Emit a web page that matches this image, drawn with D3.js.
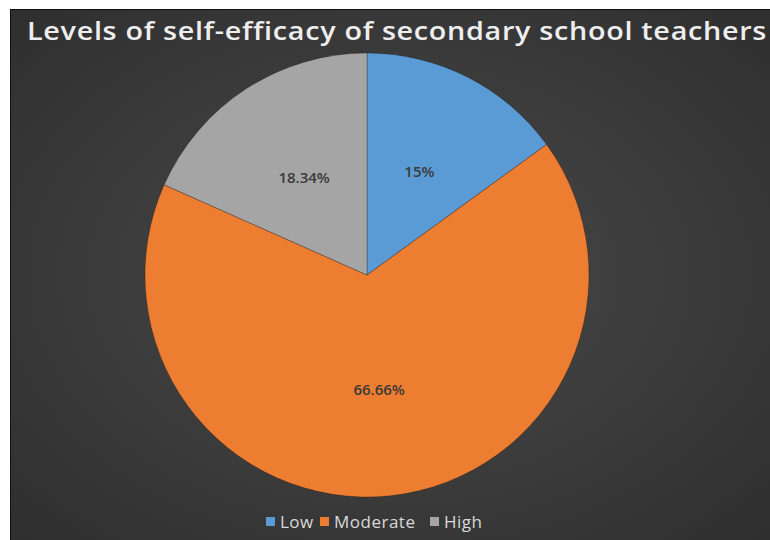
<!DOCTYPE html>
<html>
<head>
<meta charset="utf-8">
<script src="https://cdn.jsdelivr.net/npm/d3@7"></script>
<style>
  html, body { margin: 0; padding: 0; background: #fff; }
  svg { display: block; }
</style>
</head>
<body>
<svg id="chart" width="770" height="540"></svg>
<script>
const categories = ['Low', 'Moderate', 'High'];
const values = [15, 66.66, 18.34];
const valueLabels = ['15%', '66.66%', '18.34%'];
const colors = ['#5B9BD5', '#ED7D31', '#A5A5A5'];
const title = 'Levels of self-efficacy of secondary school teachers';

const width = 770, height = 540;
const svg = d3.select('#chart');

// background panel (white margin top/left like the screenshot)
const defs = svg.append('defs');
const grad = defs.append('radialGradient').attr('id', 'bg')
  .attr('cx', '50%').attr('cy', '50%').attr('r', '70%');
grad.append('stop').attr('offset', '0%').attr('stop-color', '#4a4a4a');
grad.append('stop').attr('offset', '100%').attr('stop-color', '#2f2f2f');

svg.append('rect').attr('x', 10).attr('y', 9)
  .attr('width', width - 10).attr('height', height - 9)
  .attr('fill', 'url(#bg)');
svg.append('line').attr('x1', 10.5).attr('x2', 10.5).attr('y1', 9).attr('y2', height)
  .attr('stroke', '#111');
svg.append('line').attr('x1', 10).attr('x2', width).attr('y1', 9.5).attr('y2', 9.5)
  .attr('stroke', '#111');

svg.append('text')
  .attr('x', 27).attr('y', 40)
  .attr('textLength', 740).attr('lengthAdjust', 'spacingAndGlyphs')
  .attr('fill', '#eeeeee')
  .style('font-family', '"Open Sans", "DejaVu Sans", sans-serif')
  .style('font-weight', 600)
  .style('font-size', '25px')
  .style('letter-spacing', '0.6px')
  .text(title);

const cx = 367, cy = 275, r = 222;
const pie = d3.pie().sort(null).value(d => d.v);
const arc = d3.arc().innerRadius(0).outerRadius(r);
const data = categories.map((c, i) => ({ c, v: values[i], label: valueLabels[i], color: colors[i] }));
const arcs = pie(data);

const g = svg.append('g').attr('transform', `translate(${cx},${cy})`);
g.selectAll('path').data(arcs).join('path')
  .attr('d', arc)
  .attr('fill', d => d.data.color)
  .attr('stroke', 'rgba(0,0,0,0.25)')
  .attr('stroke-width', 1);

// data labels sit about half way out, like the Excel default
const labelArc = d3.arc().innerRadius(r * 0.52).outerRadius(r * 0.52);
g.selectAll('text.lbl').data(arcs).join('text')
  .attr('class', 'lbl')
  .attr('transform', d => `translate(${labelArc.centroid(d)})`)
  .attr('text-anchor', 'middle')
  .attr('dy', '0.35em')
  .attr('fill', '#3a3a3a')
  .style('font-family', '"Open Sans", "DejaVu Sans", sans-serif')
  .style('font-weight', 600)
  .style('font-size', '15px')
  .text(d => d.data.label);

// legend
const legend = svg.append('g').attr('transform', 'translate(266,522)');
const legendX = d3.scaleOrdinal().domain(categories).range([0, 54, 164]);
const items = legend.selectAll('g').data(data).join('g')
  .attr('transform', d => `translate(${legendX(d.c)},0)`);
items.append('rect').attr('x', 0).attr('y', -5).attr('width', 9).attr('height', 9)
  .attr('fill', d => d.color);
items.append('text').attr('x', 14).attr('y', 0).attr('dy', '0.36em')
  .attr('fill', '#d9d9d9')
  .style('font-family', '"Open Sans", "DejaVu Sans", sans-serif')
  .style('font-size', '17px')
  .style('letter-spacing', '0.5px')
  .text(d => d.c);
</script>
</body>
</html>
